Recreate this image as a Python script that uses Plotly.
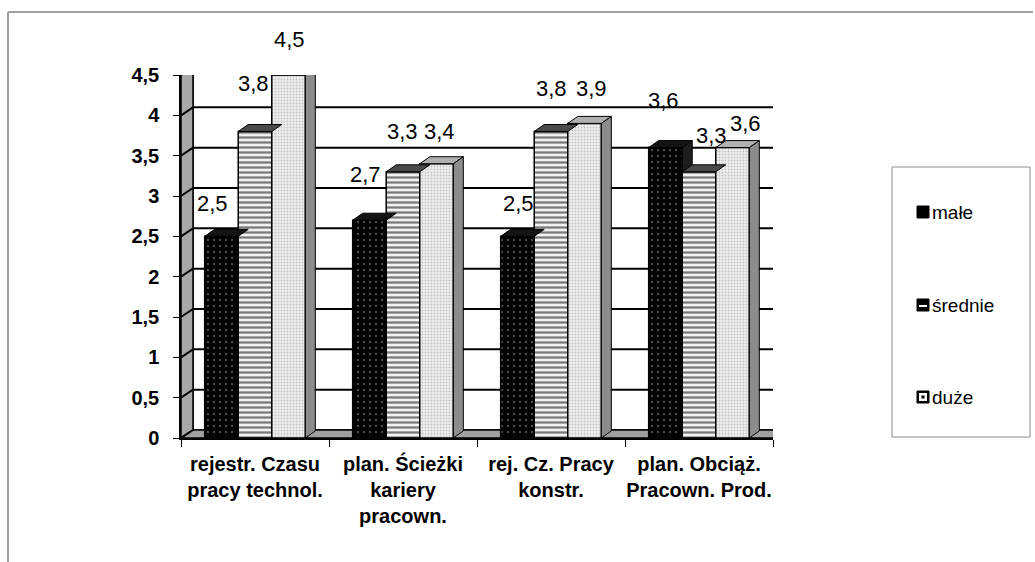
import plotly.graph_objects as go

# --- data -------------------------------------------------------------------
categories = [
    "rejestr. Czasu<br>pracy technol.",
    "plan. Ścieżki<br>kariery<br>pracown.",
    "rej. Cz. Pracy<br>konstr.",
    "plan. Obciąż.<br>Pracown. Prod.",
]
series_names = ["małe", "średnie", "duże"]
male = [2.5, 2.7, 2.5, 3.6]
srednie = [3.8, 3.3, 3.8, 3.3]
duze = [4.5, 3.4, 3.9, 3.6]
y_ticks = [0, 0.5, 1, 1.5, 2, 2.5, 3, 3.5, 4, 4.5]

# value-label nudges in pixels (x, y above the bar top)
label_dx = [[-9, -2, 1], [-4, -1, 3], [1, 0, 7], [-2, 12, 13]]
label_dy = [[33, 48, 35], [46, 40, 32], [33, 43, 35], [47, 36, 24]]

# --- geometry ---------------------------------------------------------------
W, H = 1035, 562
X0_PX, X1_PX = 181, 773      # front plane, horizontal
Y0_PX, Y1_PX = 438, 75       # value 0 and value 4.5
YMAX = 4.5
NCAT = len(categories)

px_per_x = (X1_PX - X0_PX) / NCAT
px_per_y = (Y0_PX - Y1_PX) / YMAX

def dxp(p):
    return p / px_per_x

def dyp(p):
    return p / px_per_y

def px(x):
    return x / W

def py(y):
    return 1 - y / H

# depth of the walls and of the bars
WALL_DX, WALL_DY = dxp(12), dyp(8)
BAR_DX, BAR_DY = dxp(10), dyp(7)

bargap = 0.32
bw = (1 - bargap) / 3
centers = [i + 0.5 for i in range(NCAT)]
values = [male, srednie, duze]

FONT = "Liberation Sans, Arial, sans-serif"

patterns = [
    dict(shape=".", bgcolor="#000000", fgcolor="#9a9a9a", size=6, solidity=0.12),
    dict(shape="-", bgcolor="#f2f2f2", fgcolor="#000000", size=5, solidity=0.45),
    dict(shape=".", bgcolor="#eeeeee", fgcolor="#9a9a9a", size=3, solidity=0.3),
]
top_colors = ["#141414", "#4a4a4a", "#b0b0b0"]
side_colors = ["#1e1e1e", "#3c3c3c", "#8c8c8c"]

fig = go.Figure()

for j, (name, vals) in enumerate(zip(series_names, values)):
    fig.add_trace(go.Bar(
        x=centers, y=vals, name=name, width=bw, offset=-1.5 * bw + j * bw,
        marker=dict(color=patterns[j]["bgcolor"], pattern=patterns[j],
                    line=dict(color="#000000", width=1.5)),
        showlegend=False, hoverinfo="skip",
    ))

shapes = []
wall_line = dict(color="#000000", width=2)

# back wall
shapes.append(dict(type="rect", xref="x", yref="y", layer="below",
                   x0=WALL_DX, x1=NCAT + WALL_DX, y0=WALL_DY, y1=YMAX + WALL_DY,
                   fillcolor="#ffffff", line=dict(color="#000000", width=1.5)))
# left wall
shapes.append(dict(type="path", xref="x", yref="y", layer="below",
                   path=f"M 0 0 L {WALL_DX} {WALL_DY} L {WALL_DX} {YMAX + WALL_DY} L 0 {YMAX} Z",
                   fillcolor="#a8a8a8", line=dict(color="#000000", width=1.5)))
# floor
shapes.append(dict(type="path", xref="x", yref="y", layer="below",
                   path=f"M 0 0 L {NCAT} 0 L {NCAT + WALL_DX} {WALL_DY} L {WALL_DX} {WALL_DY} Z",
                   fillcolor="#a0a0a0", line=dict(color="#000000", width=1.5)))
# grid on back and left walls
for t in y_ticks[1:]:
    shapes.append(dict(type="line", xref="x", yref="y", layer="below",
                       x0=WALL_DX, x1=NCAT + WALL_DX, y0=t + WALL_DY, y1=t + WALL_DY,
                       line=wall_line))
for t in y_ticks:
    shapes.append(dict(type="line", xref="x", yref="y", layer="below",
                       x0=0, x1=WALL_DX, y0=t, y1=t + WALL_DY, line=wall_line))

# bar tops and visible right sides
edge = dict(color="#000000", width=1)
for i in range(NCAT):
    for j in range(3):
        v = values[j][i]
        xl = centers[i] - 1.5 * bw + j * bw
        xr = xl + bw
        shapes.append(dict(type="path", xref="x", yref="y", layer="above",
                           path=(f"M {xl} {v} L {xr} {v} L {xr + BAR_DX} {v + BAR_DY} "
                                 f"L {xl + BAR_DX} {v + BAR_DY} Z"),
                           fillcolor=top_colors[j], line=edge))
        vn = values[j + 1][i] if j < 2 else 0
        if vn < v:
            shapes.append(dict(type="path", xref="x", yref="y", layer="above",
                               path=(f"M {xr} {vn} L {xr + BAR_DX} {vn + BAR_DY} "
                                     f"L {xr + BAR_DX} {v + BAR_DY} L {xr} {v} Z"),
                               fillcolor=side_colors[j], line=edge))

# outer frame (top and left edges)
frame = dict(color="#a0a0a0", width=2)
shapes.append(dict(type="line", xref="paper", yref="paper",
                   x0=px(8), x1=px(1033), y0=py(12), y1=py(12), line=frame))
shapes.append(dict(type="line", xref="paper", yref="paper",
                   x0=px(8), x1=px(8), y0=py(12), y1=py(562), line=frame))

# legend box
shapes.append(dict(type="rect", xref="paper", yref="paper",
                   x0=px(892), x1=px(1030), y0=py(437), y1=py(167),
                   fillcolor="#ffffff", line=dict(color="#8c8c8c", width=1)))

annotations = []
legend_y = [212, 305, 397]
for k, (name, ly) in enumerate(zip(series_names, legend_y)):
    sx0, sx1 = 917, 929
    sy0, sy1 = ly - 6, ly + 6
    shapes.append(dict(type="rect", xref="paper", yref="paper",
                       x0=px(sx0), x1=px(sx1), y0=py(sy1), y1=py(sy0),
                       fillcolor="#000000", line=dict(color="#000000", width=1)))
    if k == 1:
        shapes.append(dict(type="rect", xref="paper", yref="paper",
                           x0=px(sx0 + 2), x1=px(sx1 - 2), y0=py(ly + 2), y1=py(ly),
                           fillcolor="#ffffff", line=dict(width=0)))
    if k == 2:
        shapes.append(dict(type="rect", xref="paper", yref="paper",
                           x0=px(sx0 + 2), x1=px(sx1 - 2), y0=py(sy1 - 2), y1=py(sy0 + 2),
                           fillcolor="#ffffff", line=dict(width=0)))
        shapes.append(dict(type="rect", xref="paper", yref="paper",
                           x0=px(sx0 + 4.5), x1=px(sx1 - 4.5), y0=py(ly + 1.5), y1=py(ly - 1.5),
                           fillcolor="#000000", line=dict(width=0)))
    annotations.append(dict(xref="paper", yref="paper", x=px(930), y=py(ly),
                            text=name, showarrow=False, xanchor="left", yanchor="middle",
                            font=dict(family=FONT, size=19, color="#000000")))

# value labels above the bars
for i in range(NCAT):
    for j in range(3):
        v = values[j][i]
        annotations.append(dict(
            xref="x", yref="y", x=centers[i] - bw + j * bw, y=v,
            text=f"{v:.1f}".replace(".", ","), showarrow=False,
            xanchor="center", yanchor="middle",
            xshift=label_dx[i][j], yshift=label_dy[i][j],
            font=dict(family=FONT, size=22, color="#000000"),
        ))

fig.update_layout(
    width=W, height=H,
    margin=dict(l=0, r=0, t=0, b=0, autoexpand=False),
    paper_bgcolor="#ffffff", plot_bgcolor="rgba(0,0,0,0)",
    barmode="overlay",
    separators=", ",
    shapes=shapes, annotations=annotations,
    showlegend=False,
    xaxis=dict(
        domain=[px(X0_PX), px(X1_PX)], range=[0, NCAT], automargin=False,
        tickvals=centers, ticktext=categories, ticks="",
        showgrid=False, zeroline=False,
        showline=True, linecolor="#000000", linewidth=1.5,
        minor=dict(ticks="outside", dtick=1, tick0=0, ticklen=7,
                   tickcolor="#000000", showgrid=False),
        ticklabelstandoff=7,
        tickfont=dict(family=FONT, size=20, color="#000000", weight="bold"),
    ),
    yaxis=dict(
        domain=[py(Y0_PX), py(Y1_PX)], range=[0, YMAX], automargin=False,
        tickvals=y_ticks, ticks="outside", ticklen=6, tickcolor="#000000",
        showgrid=False, zeroline=False,
        showline=True, linecolor="#000000", linewidth=1.5,
        ticklabelstandoff=10,
        tickfont=dict(family=FONT, size=20, color="#000000", weight="bold"),
    ),
)

fig.write_html("out.html")
